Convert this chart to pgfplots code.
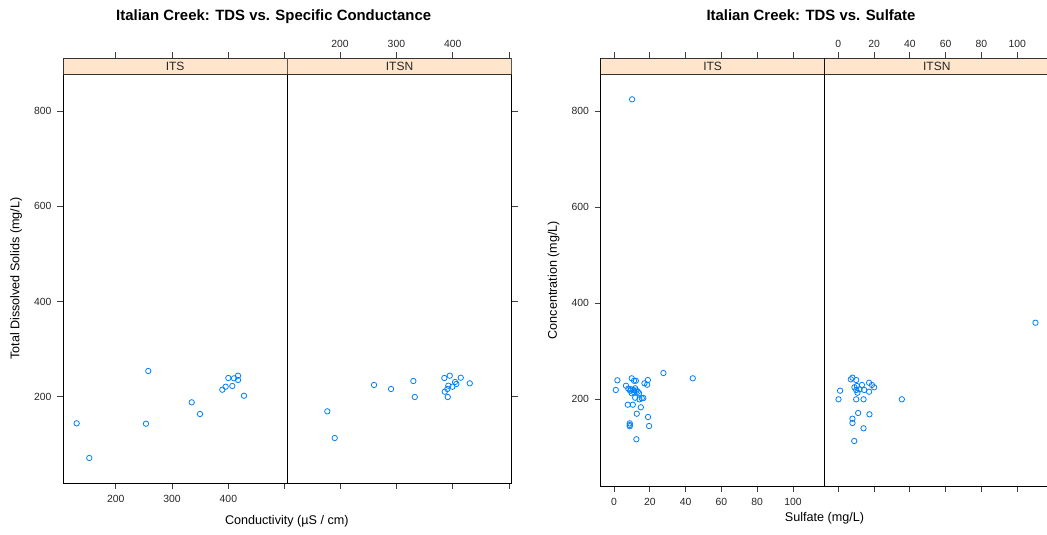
\documentclass[border=0pt]{standalone}
\usepackage{fontspec}
\setmainfont{Liberation Sans}
\usepackage{pgfplots}
\usepackage{pgfplotstable}
\pgfplotsset{compat=1.18}
\definecolor{ptcol}{RGB}{0,128,255}
\definecolor{stripcol}{RGB}{255,229,204}

\pgfplotstableread{
x y
257.8 254.0
399.9 239.3
410.0 238.6
417.1 244.1
417.1 235.1
395.2 221.0
389.2 214.7
407.0 222.5
427.7 202.1
334.9 188.2
349.6 163.7
130.7 144.1
253.7 143.3
153.1 71.3
}\condITS

\pgfplotstableread{
x y
394.7 244.1
385.1 239.3
414.2 239.9
330.1 233.0
260.3 224.6
290.5 216.2
430.2 228.1
404.1 230.9
406.4 226.7
392.2 223.1
399.3 221.0
390.4 216.2
385.8 210.5
332.6 199.4
391.1 199.4
177.4 169.3
190.5 113.3
}\condITSN

\pgfplotstableread{
x y
27.6 254.7
44.0 243.7
1.9 239.5
1.0 219.4
9.9 243.7
11.2 238.7
12.2 238.7
18.9 240.2
17.0 233.3
18.5 230.4
6.7 228.3
8.0 222.1
9.5 220.8
10.8 219.4
11.8 222.9
13.3 215.8
9.9 212.5
11.2 214.6
14.0 212.5
9.0 217.9
12.5 217.9
15.5 202.1
14.2 200.0
16.4 202.7
11.8 203.3
7.7 188.8
10.5 188.8
15.0 183.4
12.7 170.0
19.0 163.2
8.8 150.0
8.8 146.5
8.8 144.0
19.6 144.4
12.5 116.8
10.1 824.3
}\sulfITS

\pgfplotstableread{
x y
110.2 359.4
35.5 200.0
0.1 200.0
1.0 217.9
7.0 241.6
7.9 245.0
10.0 240.2
9.0 225.0
10.4 227.7
11.8 220.8
13.2 229.8
14.5 219.4
10.7 213.7
10.0 219.4
17.2 234.5
18.8 229.8
20.0 225.0
17.2 215.8
10.0 200.0
14.1 200.0
11.1 171.5
17.4 168.8
7.9 159.6
7.9 150.7
14.1 139.6
8.9 113.2
}\sulfITSN

\pgfplotsset{
  panel/.style={
    scale only axis,
    anchor=south west,
    axis line style={black, line width=0.9pt},
    tick style={black!75, line width=0.9pt},
    major tick length=6pt,
    tick align=outside,
    /pgf/number format/assume math mode=true,
    ticklabel style={font=\fontsize{10.4}{12}\selectfont, text=black!85},
    yticklabel style={xshift=-2pt},
    ytick={200,400,600,800},
    xtick pos=both,
  },
  botlab/.style={xticklabel pos=left, xticklabel style={yshift=-3pt}},
  toplab/.style={xticklabel pos=right, xticklabel style={yshift=1pt}},
  pts/.style={only marks, mark=o, mark size=2.7pt, ptcol, mark options={line width=0.8pt, draw=ptcol}},
}
\newcommand{\strip}[2]{%
  \draw[fill=stripcol, draw=black!80, line width=0.9pt] (rel axis cs:0,#1) rectangle (rel axis cs:1,1);
  \node[font=\fontsize{12}{14}\selectfont, text=black!85] at (rel axis cs:0.5,{(1+#1)/2}) {#2};
}

\begin{document}
\begin{tikzpicture}[x=1pt,y=1pt]
\useasboundingbox (0,0) rectangle (1047,535);
\clip (0,0) rectangle (1047,535);

% ---- Left figure: TDS vs conductance
\begin{axis}[panel, at={(63pt,52pt)}, width=224.3pt, height=425pt,
  xmin=106.4, xmax=504.6, ymin=18.8, ymax=911.3,
  xtick={200,300,400,500}, xticklabels={200,300,400,{}}, botlab,
  ytick pos=left, yticklabel pos=left]
  \addplot[pts] table[x=x,y=y] {\condITS};
  \strip{0.96235}{ITS}
\end{axis}
\begin{axis}[panel, at={(287.3pt,52pt)}, width=224.4pt, height=425pt,
  xmin=106.4, xmax=504.6, ymin=18.8, ymax=911.3,
  xtick={200,300,400,500}, xticklabels={200,300,400,{}}, toplab,
  ytick pos=right, yticklabels={}]
  \addplot[pts] table[x=x,y=y] {\condITSN};
  \strip{0.96235}{ITSN}
\end{axis}

% ---- Right figure: TDS vs sulfate
\begin{axis}[panel, at={(600.5pt,49pt)}, width=224.2pt, height=428pt,
  xmin=-7.54, xmax=117.7, ymin=19.6, ymax=910.3,
  xtick={0,20,40,60,80,100}, botlab,
  ytick pos=left, yticklabel pos=left]
  \addplot[pts] table[x=x,y=y] {\sulfITS};
  \strip{0.96262}{ITS}
\end{axis}
\begin{axis}[panel, at={(824.7pt,49pt)}, width=224.2pt, height=428pt,
  xmin=-7.6, xmax=117.7, ymin=19.6, ymax=910.3,
  xtick={0,20,40,60,80,100}, toplab,
  ytick pos=right, yticklabels={}]
  \addplot[pts] table[x=x,y=y] {\sulfITSN};
  \strip{0.96262}{ITSN}
\end{axis}

% titles and axis labels
\node[font=\bfseries\fontsize{14.9}{17}\selectfont, anchor=base] at (273.7,514.3) {Italian Creek: TDS vs. Specific Conductance};
\node[font=\bfseries\fontsize{14.9}{17}\selectfont, anchor=base] at (811,514.3) {Italian Creek: TDS vs. Sulfate};
\node[font=\fontsize{12.6}{15}\selectfont, anchor=base] at (286.8,10) {Conductivity (µS / cm)};
\node[font=\fontsize{12.6}{15}\selectfont, anchor=base] at (824.5,13) {Sulfate (mg/L)};
\node[font=\fontsize{12.6}{15}\selectfont, rotate=90] at (16,256.5) {Total Dissolved Solids (mg/L)};
\node[font=\fontsize{12.6}{15}\selectfont, rotate=90] at (553.7,255) {Concentration (mg/L)};
\end{tikzpicture}
\end{document}
